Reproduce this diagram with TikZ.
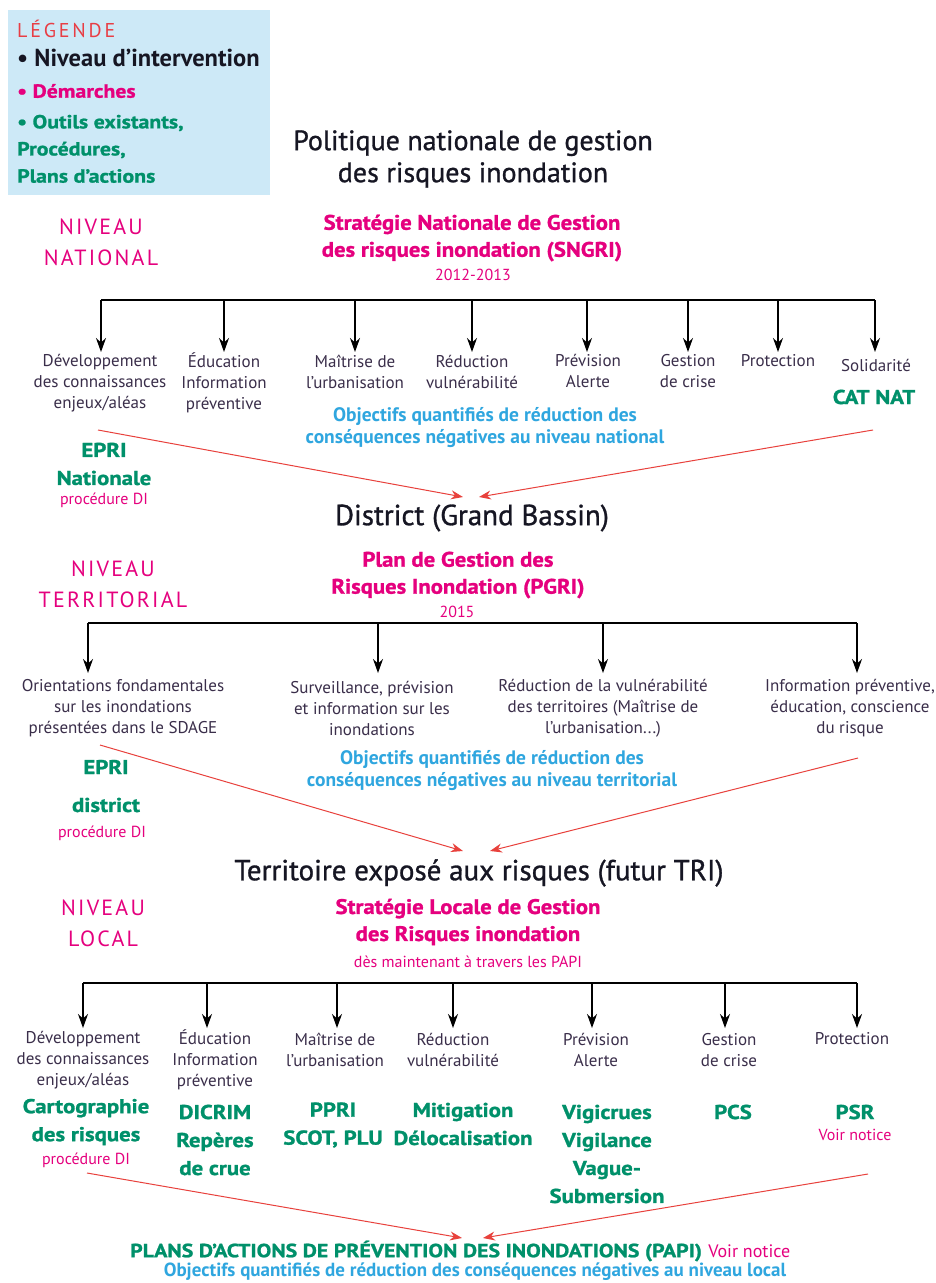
\documentclass[tikz,border=0pt]{standalone}
\usepackage{fontspec}
\setmainfont{PT Sans}
\usetikzlibrary{arrows.meta}
\definecolor{mag}{HTML}{E5007E}
\definecolor{grn}{HTML}{00906A}
\definecolor{blu}{HTML}{2FA6DF}
\definecolor{redarr}{HTML}{E8413C}
\definecolor{legbg}{HTML}{CDE9F7}
\definecolor{lbl}{HTML}{3A2E4A}
\definecolor{legred}{HTML}{E83E45}
\definecolor{ttl}{HTML}{161623}
\newcommand{\heavyf}[1]{\bfseries\addfontfeatures{FakeStretch=#1,FakeBold=1.2}}
\begin{document}
\begin{tikzpicture}[x=1pt,y=-1pt,
  every node/.style={inner sep=0pt, align=center},
  ttlstyle/.style={text=ttl, font=\addfontfeatures{FakeBold=1}\fontsize{29}{32}\selectfont},
  demstyle/.style={text=mag, font=\heavyf{1.08}\fontsize{21}{27}\selectfont},
  yearstyle/.style={text=mag, font=\fontsize{16}{18}\selectfont},
  nivstyle/.style={text=mag, font=\addfontfeature{LetterSpace=10}\fontsize{22}{31}\selectfont},
  labstyle/.style={text=lbl, font=\fontsize{17}{21}\selectfont},
  objstyle/.style={text=blu, font=\bfseries\fontsize{19.5}{22}\selectfont},
  toolstyle/.style={text=grn, font=\heavyf{1.14}\fontsize{20}{28}\selectfont},
  legstyle/.style={anchor=west, font=\heavyf{1.15}\fontsize{19}{19}\selectfont},
  barstyle/.style={draw=black, line width=1.6pt},
  dropstyle/.style={draw=black, line width=1.3pt, -{Stealth[length=14pt,width=10pt]}},
  convstyle/.style={draw=redarr, line width=1pt, -{Stealth[length=12pt,width=9pt]}}
]
\useasboundingbox (0,0) rectangle (935,1283);
\fill[white] (0,0) rectangle (935,1283);

% ---------- legend ----------
\node[fill=legbg, minimum width=262pt, minimum height=185pt, anchor=north west] (legend) at (8,10) {};
\node[anchor=west, text=legred, font=\addfontfeature{LetterSpace=14}\fontsize{20}{20}\selectfont] (lg0) at (17,29) {LÉGENDE};
\node[anchor=west, text=ttl, font=\bfseries\fontsize{24.5}{24}\selectfont] (lg1) at (17,58) {\textbullet\ Niveau d’intervention};
\node[legstyle, text=mag] (lg2) at (17,91) {\textbullet\ Démarches};
\node[legstyle, text=grn] (lg3) at (17,123) {\textbullet\ Outils existants,};
\node[legstyle, text=grn] (lg4) at (17,150) {Procédures,};
\node[legstyle, text=grn] (lg5) at (17,176) {Plans d’actions};

% ---------- national ----------
\node[ttlstyle, font=\addfontfeatures{FakeBold=1}\fontsize{28}{32}\selectfont] (pol) at (473,159) {Politique nationale de gestion\\des risques inondation};
\node[nivstyle] (nivnat) at (101,242) {NIVEAU\\NATIONAL};
\node[demstyle] (sngri) at (472,238) {Stratégie Nationale de Gestion\\des risques inondation (SNGRI)};
\node[yearstyle] (sngriy) at (473,275) {2012-2013};

\coordinate (nb1) at (101,300); \coordinate (nb2) at (224,300);
\coordinate (nb3) at (355,300); \coordinate (nb4) at (472,300);
\coordinate (nb5) at (587,300); \coordinate (nb6) at (688,300);
\coordinate (nb7) at (778,300); \coordinate (nb8) at (875,300);
\draw[barstyle] (nb1) -- (nb8);
\foreach \i/\x in {1/101,2/224,3/355,4/472,5/587,6/688,7/778,8/875}{
  \coordinate (nt\i) at (\x,352);
  \draw[dropstyle] (nb\i) -- (nt\i);
}
\node[labstyle] (nl1) at (100,383) {Développement\\des connaissances\\enjeux/aléas};
\node[labstyle] (nl2) at (224,383) {Éducation\\Information\\préventive};
\node[labstyle] (nl3) at (355,372) {Maîtrise de\\l’urbanisation};
\node[labstyle] (nl4) at (472,372) {Réduction\\vulnérabilité};
\node[labstyle] (nl5) at (588,371) {Prévision\\Alerte};
\node[labstyle] (nl6) at (688,371) {Gestion\\de crise};
\node[labstyle] (nl7) at (778,361) {Protection};
\node[labstyle] (nl8) at (876,365) {Solidarité};
\node[toolstyle] (catnat) at (874,397) {CAT NAT};
\node[objstyle] (objnat) at (485,428) {Objectifs quantifiés de réduction des\\conséquences négatives au niveau national};
\node[toolstyle] (eprin) at (104,464) {EPRI\\Nationale};
\node[yearstyle] (procn) at (104,500) {procédure DI};
\coordinate (cn1) at (98,430); \coordinate (cn2) at (873,430);
\node[ttlstyle] (district) at (472,518) {District (Grand Bassin)};
\draw[convstyle] (cn1) -- (463,497) coordinate (cn1e);
\draw[convstyle] (cn2) -- (479,497) coordinate (cn2e);

% ---------- territorial ----------
\node[nivstyle] (nivter) at (113,584) {NIVEAU\\TERRITORIAL};
\node[demstyle] (pgri) at (458,575) {Plan de Gestion des\\Risques Inondation (PGRI)};
\node[yearstyle] (pgriy) at (457,612) {2015};
\coordinate (tb1) at (88,623); \coordinate (tb2) at (378,623);
\coordinate (tb3) at (603,623); \coordinate (tb4) at (857,623);
\draw[barstyle] (tb1) -- (tb4);
\foreach \i/\x in {1/88,2/378,3/603,4/857}{
  \coordinate (tt\i) at (\x,673);
  \draw[dropstyle] (tb\i) -- (tt\i);
}
\node[labstyle] (tl1) at (123,708) {Orientations fondamentales\\sur les inondations\\présentées dans le SDAGE};
\node[labstyle] (tl2) at (372,708) {Surveillance, prévision\\et information sur les\\inondations};
\node[labstyle] (tl3) at (603,708) {Réduction de la vulnérabilité\\des territoires (Maîtrise de\\l’urbanisation...)};
\node[labstyle] (tl4) at (850,708) {Information préventive,\\éducation, conscience\\du risque};
\node[objstyle] (objter) at (492,771) {Objectifs quantifiés de réduction des\\conséquences négatives au niveau territorial};
\node[toolstyle] (eprid1) at (106,767) {EPRI};
\node[toolstyle] (eprid2) at (106,805) {district};
\node[yearstyle] (procd) at (102,833) {procédure DI};
\coordinate (ct1) at (100,745); \coordinate (ct2) at (858,758);
\draw[convstyle] (ct1) -- (463,851) coordinate (ct1e);
\draw[convstyle] (ct2) -- (490,851) coordinate (ct2e);
\node[ttlstyle] (tri) at (479,873) {Territoire exposé aux risques (futur TRI)};

% ---------- local ----------
\node[nivstyle] (nivloc) at (103,923) {NIVEAU\\LOCAL};
\node[demstyle] (slgri) at (468,922) {Stratégie Locale de Gestion\\des Risques inondation};
\node[yearstyle] (slgriy) at (468,962) {dès maintenant à travers les PAPI};
\coordinate (lb1) at (83,983); \coordinate (lb2) at (207,983);
\coordinate (lb3) at (337,983); \coordinate (lb4) at (453,983);
\coordinate (lb5) at (592,983); \coordinate (lb6) at (725,983);
\coordinate (lb7) at (857,983);
\draw[barstyle] (lb1) -- (lb7);
\foreach \i/\x in {1/83,2/207,3/337,4/453,5/592,6/725,7/857}{
  \coordinate (lt\i) at (\x,1028);
  \draw[dropstyle] (lb\i) -- (lt\i);
}
\node[labstyle] (ll1) at (83,1060) {Développement\\des connaissances\\enjeux/aléas};
\node[labstyle] (ll2) at (215,1060) {Éducation\\Information\\préventive};
\node[labstyle] (ll3) at (335,1050) {Maîtrise de\\l’urbanisation};
\node[labstyle] (ll4) at (453,1050) {Réduction\\vulnérabilité};
\node[labstyle] (ll5) at (596,1050) {Prévision\\Alerte};
\node[labstyle] (ll6) at (729,1050) {Gestion\\de crise};
\node[labstyle] (ll7) at (852,1039) {Protection};
\node[toolstyle] (lo1) at (86,1122) {Cartographie\\des risques};
\node[yearstyle] (lo1p) at (86,1160) {procédure DI};
\node[toolstyle] (lo2) at (215,1140) {DICRIM\\Repères\\de crue};
\node[toolstyle] (lo3) at (333,1125) {PPRI\\SCOT, PLU};
\node[toolstyle] (lo4) at (463,1124) {Mitigation\\Délocalisation};
\node[toolstyle] (lo5) at (607,1154) {Vigicrues\\Vigilance\\Vague-\\Submersion};
\node[toolstyle] (lo6) at (733,1112) {PCS};
\node[toolstyle] (lo7) at (855,1112) {PSR};
\node[yearstyle] (lo7v) at (855,1135) {Voir notice};
\coordinate (cl1) at (87,1173); \coordinate (cl2) at (868,1174);
\draw[convstyle] (cl1) -- (462,1238) coordinate (cl1e);
\draw[convstyle] (cl2) -- (483,1238) coordinate (cl2e);
\node[text=grn, font=\heavyf{1.15}\fontsize{19}{19}\selectfont, anchor=west] (papi) at (130,1251) {PLANS D’ACTIONS DE PRÉVENTION DES INONDATIONS (PAPI)};
\node[yearstyle, anchor=west, font=\fontsize{18}{18}\selectfont] (papiv) at ([xshift=6pt]papi.east) {Voir notice};
\node[objstyle, font=\bfseries\fontsize{19}{19}\selectfont] (objloc) at (475,1272) {Objectifs quantifiés de réduction des conséquences négatives au niveau local};
\end{tikzpicture}
\end{document}
